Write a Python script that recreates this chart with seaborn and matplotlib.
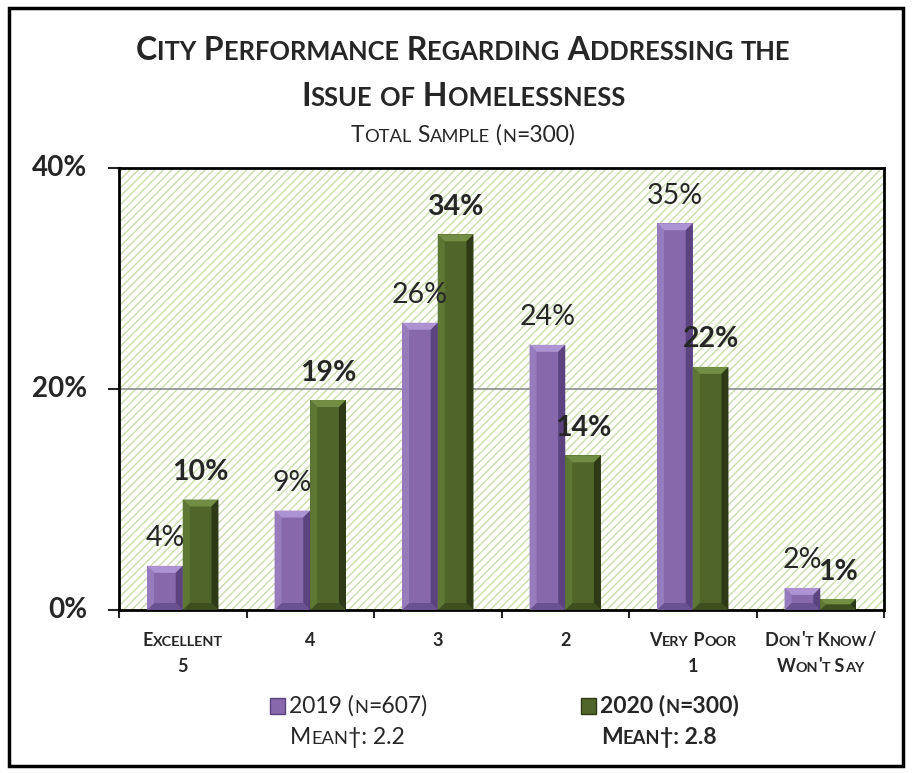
import itertools
import numpy as np
import pandas as pd
import matplotlib
matplotlib.use("Agg")
import matplotlib.pyplot as plt
import seaborn as sns
from matplotlib.patches import Rectangle, Polygon
from matplotlib.offsetbox import TextArea, HPacker, AnnotationBbox, DrawingArea

# data
categories = ["Excellent 5", "4", "3", "2", "Very Poor 1", "Don't Know/Won't Say"]
cat_lines = [["Excellent", "5"], ["4"], ["3"], ["2"], ["Very Poor", "1"], ["Don't Know/", "Won't Say"]]
vals_2019 = [4, 9, 26, 24, 35, 2]
vals_2020 = [10, 19, 34, 14, 22, 1]
series = ["2019 (n=607)", "2020 (n=300)"]
means = ["Mean\u2020: 2.2", "Mean\u2020: 2.8"]
yticks = [0, 20, 40]

FONT = ["Lato", "DejaVu Sans"]
PURPLE = "#8668AB"
GREEN = "#50652A"
bevel_cols = {
    PURPLE: ["#AE93D2", "#6A5190", "#977CBD", "#5B4380"],  # top, bottom, left, right
    GREEN: ["#728E45", "#3E4F1F", "#5E7735", "#2E3A15"],
}

sns.set_style("white")
plt.rcParams["font.family"] = FONT
plt.rcParams["hatch.linewidth"] = 1.0


def caps_box(s, size, weight="normal", ratio=0.8):
    # fake small caps: lowercase letters drawn as smaller capitals
    parts = []
    for small, grp in itertools.groupby(s, key=str.islower):
        txt = "".join(grp)
        sz = size * ratio if small else size
        parts.append(TextArea(txt.upper() if small else txt,
                              textprops=dict(size=sz, weight=weight, family=FONT)))
    return HPacker(children=parts, align="baseline", pad=0, sep=0)


def put(fig, box, xy, coords="figure fraction", align=(0.5, 0.5), ax=None):
    ab = AnnotationBbox(box, xy, xycoords=coords, frameon=False, box_alignment=align,
                        pad=0, annotation_clip=False)
    (ax if ax is not None else fig).add_artist(ab)


df = pd.DataFrame({
    "cat": categories * 2,
    "val": vals_2019 + vals_2020,
    "year": [series[0]] * len(categories) + [series[1]] * len(categories),
})

fig = plt.figure(figsize=(9.13, 7.73), dpi=100)
ax = fig.add_axes([119 / 913, 1 - 610 / 773, (884 - 119) / 913, (610 - 168) / 773])

# hatched plot background
ax.add_patch(Rectangle((0, 0), 1, 1, transform=ax.transAxes, facecolor="white",
                       hatch="////", edgecolor="#CADDAA", lw=0, zorder=0))
ax.axhline(20, color="#8C8C8C", lw=1.2, zorder=1)

sns.barplot(data=df, x="cat", y="val", hue="year", palette=[PURPLE, GREEN],
            width=0.56, saturation=1, ax=ax, legend=False, zorder=2)

ax.set_xlim(-0.5, len(categories) - 0.5)
ax.set_ylim(0, 40)
ax.set_xlabel("")
ax.set_ylabel("")
ax.tick_params(axis="y", direction="out", length=8, width=1.5, left=True, labelleft=False)
ax.tick_params(axis="x", direction="out", length=6, width=1.5, bottom=True, labelbottom=False)
ax.set_yticks(yticks)
ax.set_xticks(np.arange(-0.5, len(categories), 1))
for sp in ax.spines.values():
    sp.set_color("black")
    sp.set_linewidth(2)

# bold y labels, drawn as plain text so the weight sticks
for t in yticks:
    ax.text(-32 / 765, t, f"{t}%", transform=ax.get_yaxis_transform(), ha="right",
            va="center", fontsize=20, fontweight="bold")

# bevelled bars + value labels
inv = ax.transData.inverted()
for i, cont in enumerate(ax.containers):
    col = [PURPLE, GREEN][i]
    top, bot, lft, rgt = bevel_cols[col]
    for bar in cont:
        bar.set_edgecolor("none")
        x0, w, h = bar.get_x(), bar.get_width(), bar.get_height()
        (L, B), (R, T) = ax.transData.transform([(x0, 0), (x0 + w, h)])
        b = min(7, (R - L) / 2, (T - B) / 2)
        polys = [
            ([(L, T), (R, T), (R - b, T - b), (L + b, T - b)], top),
            ([(L, B), (R, B), (R - b, B + b), (L + b, B + b)], bot),
            ([(L, B), (L, T), (L + b, T - b), (L + b, B + b)], lft),
            ([(R, B), (R, T), (R - b, T - b), (R - b, B + b)], rgt),
        ]
        for pts, c in polys:
            ax.add_patch(Polygon(inv.transform(pts), closed=True, facecolor=c,
                                 edgecolor="none", zorder=3))
        ax.annotate(f"{h:.0f}%", (x0 + w / 2, h), xytext=(0, 14), textcoords="offset points",
                    ha="center", va="baseline", fontsize=20.5,
                    fontweight="bold" if i == 1 else "normal", zorder=4)

# category labels
for i, lines in enumerate(cat_lines):
    for j, line in enumerate(lines):
        put(fig, caps_box(line, 13, "bold"), (i, 1 - (640 + 26 * j) / 773),
            coords=("data", "figure fraction"), ax=ax)

# title
put(fig, caps_box("City Performance Regarding Addressing the", 23, "bold"), (463 / 913, 1 - 50 / 773))
put(fig, caps_box("Issue of Homelessness", 23, "bold"), (463 / 913, 1 - 96 / 773))
put(fig, caps_box("Total Sample (n=300)", 16.5), (463 / 913, 1 - 135 / 773))

# legend built by hand
for k, (lab, mean) in enumerate(zip(series, means)):
    wt = "bold" if k == 1 else "normal"
    col = [PURPLE, GREEN][k]
    da = DrawingArea(11, 11, 0, 0)
    da.add_artist(Rectangle((0, 0), 11, 11, facecolor=col, edgecolor=bevel_cols[col][3], lw=1))
    row = HPacker(children=[da, caps_box(lab, 16.5, wt)], align="center", pad=0, sep=3)
    x_sq = [270, 581][k]
    put(fig, row, (x_sq / 913, 1 - 706 / 773), align=(0, 0.5))
    put(fig, caps_box(mean, 16.5, wt), ((x_sq + 20) / 913, 1 - 738 / 773), align=(0, 0.5))

# outer frame
fig.add_artist(Rectangle((9 / 913, 7 / 773), 894 / 913, 758 / 773, transform=fig.transFigure,
                         fill=False, edgecolor="black", lw=2.5))

fig.savefig("out.png", dpi=100)
